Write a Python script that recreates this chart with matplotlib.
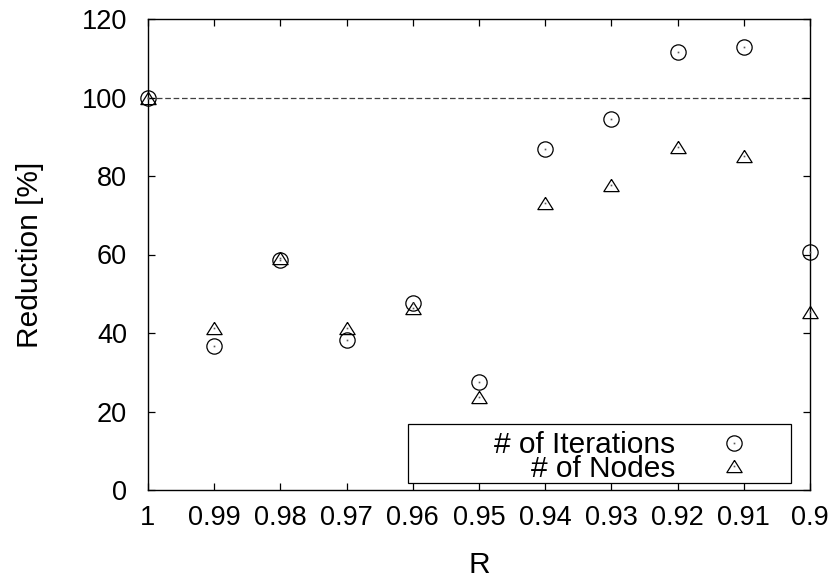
import matplotlib
matplotlib.use("Agg")
import matplotlib.pyplot as plt
from matplotlib.patches import Rectangle
from matplotlib.legend_handler import HandlerTuple

plt.rcParams["font.family"] = ["Liberation Sans", "DejaVu Sans"]

# threshold R and the reduction of each measure (percent of baseline)
r_values = [1.00, 0.99, 0.98, 0.97, 0.96, 0.95, 0.94, 0.93, 0.92, 0.91, 0.90]
r_labels = ["1", "0.99", "0.98", "0.97", "0.96", "0.95", "0.94", "0.93", "0.92", "0.91", "0.9"]
iterations = [100.0, 36.8, 58.5, 38.1, 47.7, 27.4, 86.8, 94.6, 111.7, 112.8, 60.7]
nodes = [100.0, 41.4, 59.0, 41.4, 46.3, 23.7, 73.0, 77.8, 87.3, 85.2, 45.4]
y_ticks = [0, 20, 40, 60, 80, 100, 120]

FS_TICK = 19.5
FS_TEXT = 21.5

fig = plt.figure(figsize=(8.37, 5.84), dpi=100)
ax = fig.add_axes([148 / 837, 94 / 584, 662 / 837, 471 / 584])

# gnuplot style triangle, a bit wider than tall
tri = [(0, 0.8), (-1, -0.8), (1, -0.8), (0, 0.8)]

circ, = ax.plot(r_values, iterations, ls="none", marker="o", ms=11,
                mfc="none", mec="black", mew=0.9, clip_on=False, zorder=3)
tria, = ax.plot(r_values, nodes, ls="none", marker=tri, ms=11,
                mfc="none", mec="black", mew=0.9, clip_on=False, zorder=3)
dot1, = ax.plot(r_values, iterations, ls="none", marker="s", ms=1.2,
                mfc="0.35", mec="none", clip_on=False, zorder=4)
dot2, = ax.plot(r_values, nodes, ls="none", marker="s", ms=1.2,
                mfc="0.35", mec="none", clip_on=False, zorder=4)

ax.axhline(100, color="0.25", lw=0.9, dashes=(4.5, 2.2), zorder=1)

ax.set_xlim(1.0, 0.9)
ax.set_ylim(0, 120)
ax.set_xticks(r_values)
ax.set_xticklabels(r_labels)
ax.set_yticks(y_ticks)

ax.tick_params(direction="in", length=5, width=0.9, labelsize=FS_TICK,
               top=True, right=True)
ax.tick_params(axis="x", pad=11)
ax.tick_params(axis="y", pad=15)
for s in ax.spines.values():
    s.set_linewidth(1.0)

ax.set_xlabel("R", fontsize=FS_TEXT, labelpad=14)
ax.set_ylabel("Reduction [%]", fontsize=FS_TEXT, labelpad=27)

# boxed key with right-aligned labels and the symbol on the right
ax.add_patch(Rectangle((0.392, 0.0142), 0.580, 0.126, transform=ax.transAxes,
                       fill=False, ec="black", lw=0.9, zorder=5))
leg = ax.legend([(circ, dot1), (tria, dot2)], ["# of Iterations", "# of Nodes"],
                handler_map={tuple: HandlerTuple(ndivide=1)},
                loc="center right", bbox_to_anchor=(0.9079, 0.070),
                frameon=False, markerfirst=False, fontsize=FS_TEXT,
                borderpad=0, borderaxespad=0, handlelength=1.0,
                handletextpad=1.48, labelspacing=-0.15, numpoints=1)

fig.savefig("out.png", dpi=100)
